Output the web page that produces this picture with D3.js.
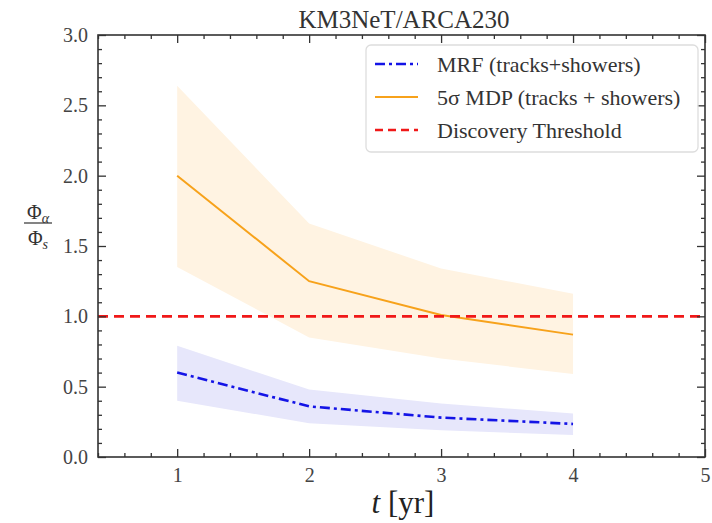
<!DOCTYPE html>
<html>
<head>
<meta charset="utf-8">
<script src="https://cdn.jsdelivr.net/npm/d3@7"></script>
<style>
  body { margin: 0; background: #fff; }
  svg { font-family: "Liberation Serif", "DejaVu Serif", serif; }
</style>
</head>
<body>
<svg id="chart" width="712" height="523"></svg>
<script>
// years on the x axis
const years = [1, 2, 3, 4];

// 5 sigma MDP (tracks + showers)
const mdp = [2.0, 1.25, 1.01, 0.87];
const mdpLow = [1.35, 0.85, 0.70, 0.59];
const mdpHigh = [2.64, 1.66, 1.34, 1.16];

// MRF (tracks + showers)
const mrf = [0.6, 0.36, 0.28, 0.235];
const mrfLow = [0.40, 0.24, 0.19, 0.156];
const mrfHigh = [0.79, 0.48, 0.38, 0.31];

const threshold = 1.0;

const xTicks = [1, 2, 3, 4, 5];
const yTicks = [0, 0.5, 1.0, 1.5, 2.0, 2.5, 3.0];

const width = 712, height = 523;
const margin = { top: 35, right: 7, bottom: 66, left: 98 };
const w = width - margin.left - margin.right;
const h = height - margin.top - margin.bottom;

const svg = d3.select("#chart");
const g = svg.append("g").attr("transform", `translate(${margin.left},${margin.top})`);

const x = d3.scaleLinear().domain([0.4, 5]).range([0, w]);
const y = d3.scaleLinear().domain([0, 3]).range([h, 0]);

const rows = years.map((t, i) => ({ t, mdp: mdp[i], mdpLow: mdpLow[i], mdpHigh: mdpHigh[i],
  mrf: mrf[i], mrfLow: mrfLow[i], mrfHigh: mrfHigh[i] }));

// bandes d'incertitude
const area = (lo, hi) => d3.area().x(d => x(d.t)).y0(d => y(d[lo])).y1(d => y(d[hi]));
g.append("path").datum(rows).attr("d", area("mdpLow", "mdpHigh")).attr("fill", "#fff3e2");
g.append("path").datum(rows).attr("d", area("mrfLow", "mrfHigh")).attr("fill", "#e7e7fb");

const line = key => d3.line().x(d => x(d.t)).y(d => y(d[key]));
g.append("path").datum(rows).attr("d", line("mrf"))
  .attr("fill", "none").attr("stroke", "#1414e6").attr("stroke-width", 2.6)
  .attr("stroke-dasharray", "10,4,3,4");
g.append("path").datum(rows).attr("d", line("mdp"))
  .attr("fill", "none").attr("stroke", "#f7a21b").attr("stroke-width", 2);
g.append("line")
  .attr("x1", 0).attr("x2", w).attr("y1", y(threshold)).attr("y2", y(threshold))
  .attr("stroke", "#f01818").attr("stroke-width", 2.6).attr("stroke-dasharray", "10,6");

// axes (ticks vers l'intérieur)
const xMinor = d3.range(0.4, 5.0001, 0.2).filter(v => Math.abs(v - Math.round(v)) > 1e-6);
const yMinor = d3.range(0, 3.0001, 0.1).filter(v => Math.abs(v * 2 - Math.round(v * 2)) > 1e-6);

function styleAxis(sel) {
  sel.select(".domain").remove();
  sel.selectAll("line").attr("stroke", "#333").attr("stroke-width", 1.3);
  sel.selectAll("text").attr("fill", "#444").style("font-size", "20px")
    .style("font-family", "Liberation Serif, serif");
}

g.append("g").attr("transform", `translate(0,${h})`)
  .call(d3.axisBottom(x).tickValues(xTicks).tickSize(-8).tickPadding(11).tickFormat(d3.format("d")))
  .call(styleAxis);
g.append("g").attr("transform", `translate(0,${h})`)
  .call(d3.axisBottom(x).tickValues(xMinor).tickSize(-4).tickFormat(""))
  .call(styleAxis);
g.append("g")
  .call(d3.axisTop(x).tickValues(xTicks).tickSize(-8).tickFormat(""))
  .call(styleAxis);
g.append("g")
  .call(d3.axisTop(x).tickValues(xMinor).tickSize(-4).tickFormat(""))
  .call(styleAxis);

g.append("g")
  .call(d3.axisLeft(y).tickValues(yTicks).tickSize(-8).tickPadding(10).tickFormat(d3.format(".1f")))
  .call(styleAxis);
g.append("g")
  .call(d3.axisLeft(y).tickValues(yMinor).tickSize(-4).tickFormat(""))
  .call(styleAxis);
g.append("g").attr("transform", `translate(${w},0)`)
  .call(d3.axisRight(y).tickValues(yTicks).tickSize(-8).tickFormat(""))
  .call(styleAxis);
g.append("g").attr("transform", `translate(${w},0)`)
  .call(d3.axisRight(y).tickValues(yMinor).tickSize(-4).tickFormat(""))
  .call(styleAxis);

g.append("rect").attr("width", w).attr("height", h)
  .attr("fill", "none").attr("stroke", "#333").attr("stroke-width", 1.6);

// titre
svg.append("text").attr("x", 404).attr("y", 28)
  .attr("text-anchor", "middle").style("font-size", "25px").attr("fill", "#333")
  .text("KM3NeT/ARCA230");

// label x
const xl = svg.append("text").attr("x", 403).attr("y", 513)
  .attr("text-anchor", "middle").style("font-size", "31px").attr("fill", "#222");
xl.append("tspan").style("font-style", "italic").text("t");
xl.append("tspan").text(" [yr]");

// label y (fraction)
const yl = svg.append("g").attr("transform", "translate(38,0)").attr("fill", "#333");
const num = yl.append("text").attr("y", 219).attr("text-anchor", "middle").style("font-size", "20px");
num.append("tspan").text("Φ");
num.append("tspan").attr("dy", 4).style("font-size", "14px").style("font-style", "italic").text("α");
yl.append("line").attr("x1", -14).attr("x2", 14).attr("y1", 223).attr("y2", 223)
  .attr("stroke", "#333").attr("stroke-width", 1.2);
const den = yl.append("text").attr("y", 245).attr("text-anchor", "middle").style("font-size", "20px");
den.append("tspan").text("Φ");
den.append("tspan").attr("dy", 4).style("font-size", "14px").style("font-style", "italic").text("s");

// légende
const legendItems = [
  { label: "MRF (tracks+showers)", color: "#1414e6", dash: "10,4,3,4", width: 2.6 },
  { label: "5σ MDP (tracks + showers)", color: "#f7a21b", dash: null, width: 2 },
  { label: "Discovery Threshold", color: "#f01818", dash: "8,5", width: 2.6 }
];
const legend = svg.append("g").attr("transform", "translate(366,45)");
legend.append("rect").attr("width", 332).attr("height", 107).attr("rx", 5)
  .attr("fill", "#fff").attr("fill-opacity", 0.85).attr("stroke", "#ddd").attr("stroke-width", 1.3);
legendItems.forEach((d, i) => {
  const yy = 19 + i * 33;
  legend.append("line").attr("x1", 9).attr("x2", 52).attr("y1", yy).attr("y2", yy)
    .attr("stroke", d.color).attr("stroke-width", d.width).attr("stroke-dasharray", d.dash);
  legend.append("text").attr("x", 71).attr("y", yy + 8).style("font-size", "22px")
    .attr("fill", "#333").text(d.label);
});
</script>
</body>
</html>
